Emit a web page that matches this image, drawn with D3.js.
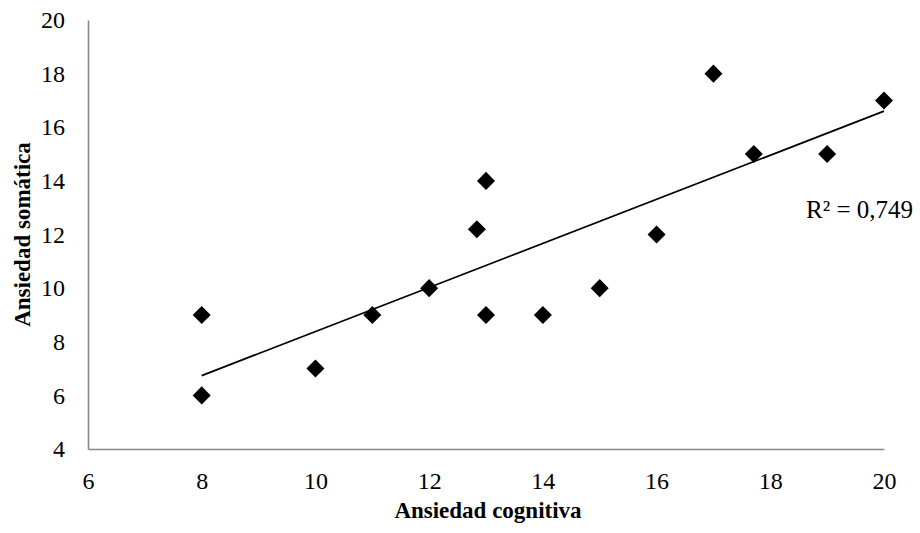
<!DOCTYPE html>
<html>
<head>
<meta charset="utf-8">
<script src="https://cdn.jsdelivr.net/npm/d3@7/dist/d3.min.js"></script>
<style>
  html, body { margin: 0; padding: 0; background: #fff; }
  svg { display: block; font-family: "Liberation Serif", "Times New Roman", serif; }
</style>
</head>
<body>
<svg id="chart" width="920" height="533"></svg>
<script>
// Cognitive vs. somatic anxiety scores
const cognitiva = [8, 8, 10, 11, 12, 12.84, 13, 13, 14, 15, 16, 17, 17.71, 19, 20];
const somatica  = [9, 6, 7, 9, 10, 12.2, 14, 9, 9, 10, 12, 18, 15, 15, 17];
const xTicks = [6, 8, 10, 12, 14, 16, 18, 20];
const yTicks = [4, 6, 8, 10, 12, 14, 16, 18, 20];
const r2Label = "R² = 0,749";
const xTitle = "Ansiedad cognitiva";
const yTitle = "Ansiedad somática";

const svg = d3.select("#chart");
const plotLeft = 88, plotRight = 884, plotTop = 20, plotBottom = 449;

const x = d3.scaleLinear().domain([6, 20]).range([plotLeft, plotRight]);
const y = d3.scaleLinear().domain([4, 20]).range([plotBottom, plotTop]);

const axisColor = "#888888";

// Axes (no tick marks, only labels)
const gx = svg.append("g")
  .attr("transform", `translate(0,${plotBottom})`)
  .call(d3.axisBottom(x).tickValues(xTicks).tickSize(0).tickPadding(23).tickFormat(d3.format("d")));
const gy = svg.append("g")
  .attr("transform", `translate(${plotLeft},0)`)
  .call(d3.axisLeft(y).tickValues(yTicks).tickSize(0).tickPadding(23).tickFormat(d3.format("d")));

[gx, gy].forEach(g => {
  g.select(".domain").attr("stroke", axisColor).attr("stroke-width", 1.6);
  g.selectAll(".tick text")
    .attr("fill", "#000")
    .style("font-family", '"Liberation Serif", "Times New Roman", serif')
    .style("font-size", "24px");
});

// Linear regression trendline
const n = cognitiva.length;
const mx = d3.mean(cognitiva), my = d3.mean(somatica);
let sxy = 0, sxx = 0;
for (let i = 0; i < n; i++) {
  sxy += (cognitiva[i] - mx) * (somatica[i] - my);
  sxx += (cognitiva[i] - mx) ** 2;
}
const slope = sxy / sxx, intercept = my - slope * mx;
const [x0, x1] = d3.extent(cognitiva);

svg.append("line")
  .attr("x1", x(x0)).attr("y1", y(intercept + slope * x0))
  .attr("x2", x(x1)).attr("y2", y(intercept + slope * x1))
  .attr("stroke", "#000").attr("stroke-width", 1.8);

// Diamond markers
const diamond = d3.symbol().type(d3.symbolSquare).size(162);
svg.append("g").selectAll("path")
  .data(cognitiva.map((c, i) => [c, somatica[i]]))
  .join("path")
  .attr("d", diamond)
  .attr("transform", d => `translate(${x(d[0])},${y(d[1])}) rotate(45)`)
  .attr("fill", "#000");

// R² annotation
svg.append("text")
  .attr("x", x(18.63)).attr("y", y(12.6))
  .style("font-size", "25px")
  .attr("fill", "#000")
  .text(r2Label);

// Axis titles
svg.append("text")
  .attr("x", (plotLeft + plotRight) / 2 + 2).attr("y", 518)
  .attr("text-anchor", "middle")
  .style("font-size", "23px").style("font-weight", "bold")
  .text(xTitle);

svg.append("text")
  .attr("transform", `translate(30,${(plotTop + plotBottom) / 2}) rotate(-90)`)
  .attr("text-anchor", "middle")
  .style("font-size", "23px").style("font-weight", "bold")
  .text(yTitle);
</script>
</body>
</html>
